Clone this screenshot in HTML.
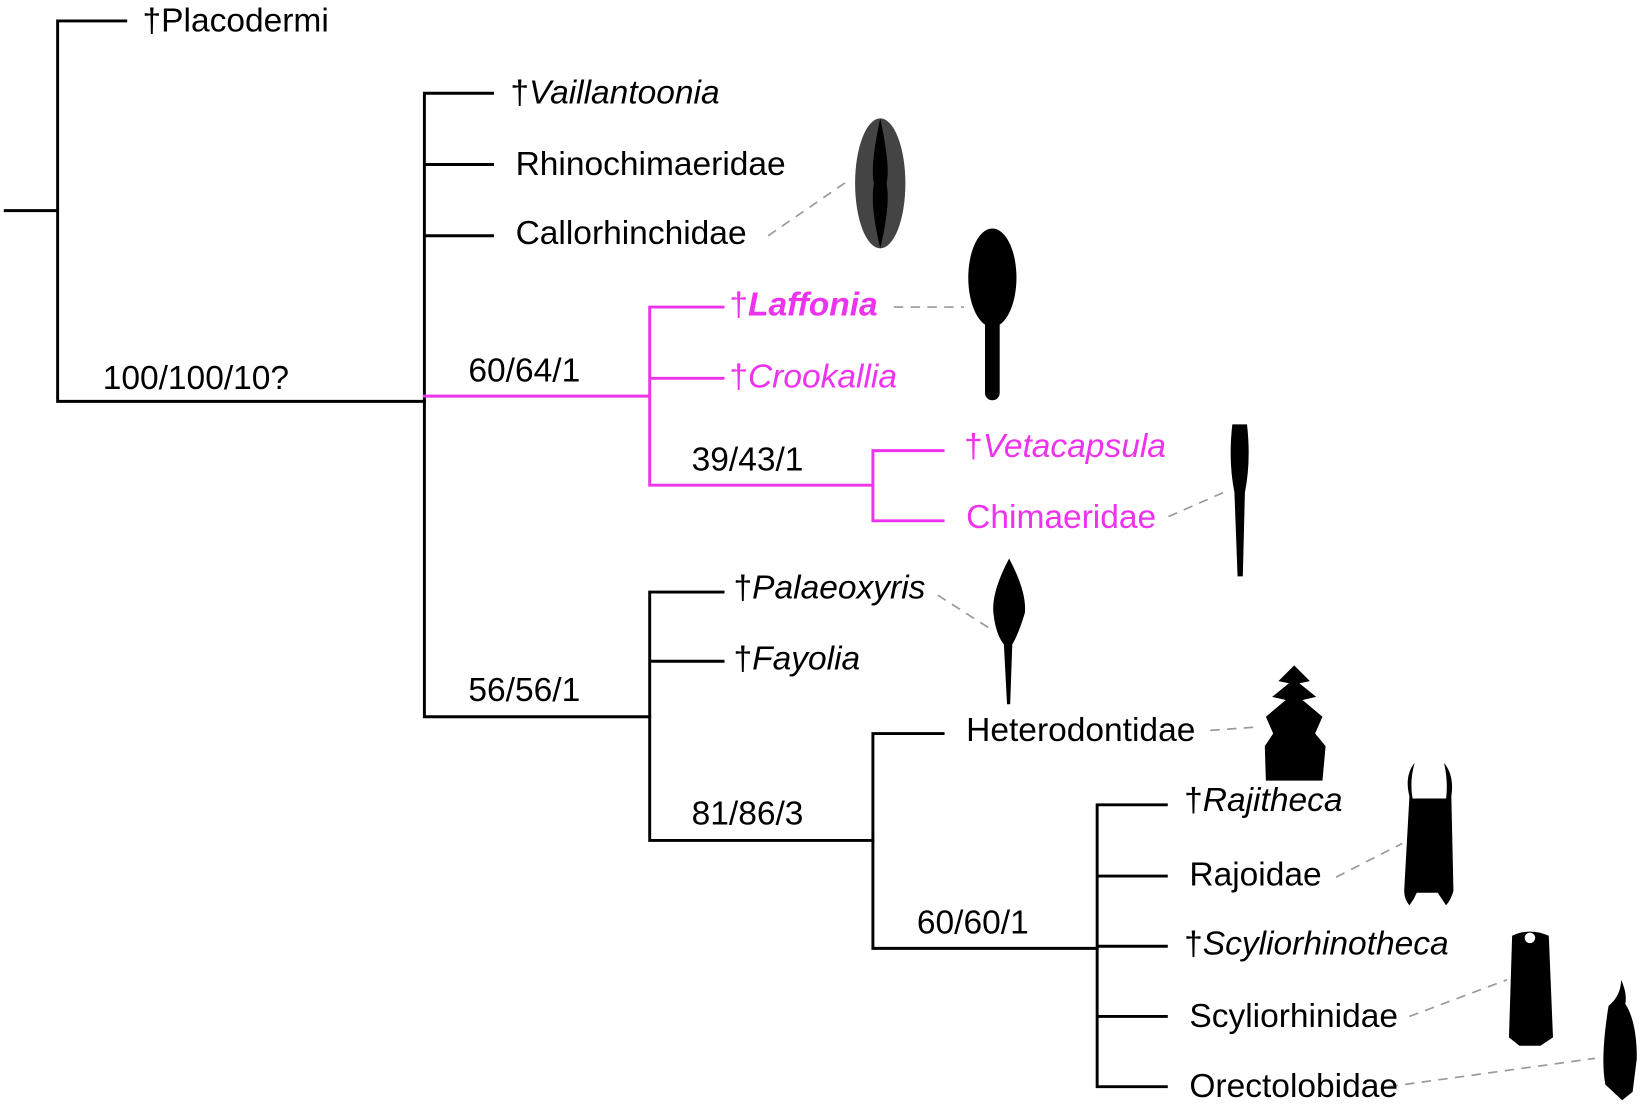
<!DOCTYPE html>
<html><head><meta charset="utf-8"><style>
html,body{margin:0;padding:0;background:#fff;}
svg{display:block;}
text{font-family:"Liberation Sans",Arial,sans-serif;font-size:32px;}
</style></head><body>
<svg width="1642" height="1112" viewBox="0 0 1642 1112" xmlns="http://www.w3.org/2000/svg">
<g transform="scale(1.0479)">
<g stroke="#000" stroke-width="2.8" fill="none" stroke-linecap="square">
<path d="M5 201H55M55 20V383M55 20H120M55 383H405"/>
<path d="M405 89V684M405 89H470M405 157H470M405 225H470M405 684H620"/>
<path d="M620 565V802M620 565H690M620 631H690M620 802H833"/>
<path d="M833 700V905M833 700H900M833 905H1047"/>
<path d="M1047 768V1037M1047 768H1113M1047 836H1113M1047 903H1113M1047 970H1113M1047 1037H1113"/>
</g>
<g stroke="#ee33ee" stroke-width="2.8" fill="none" stroke-linecap="square">
<path d="M405 378H620M620 293V463M620 293H690M620 361H690M620 463H833M833 430V497M833 430H900M833 497H900"/>
</g>
<g stroke="#999" stroke-width="1.6" stroke-dasharray="9,7" fill="none">
<path d="M733 225L810 172M853 293H920M1115 493L1172 468M895 568L948 602M1155 697L1197 694M1275 837L1338 805M1345 970L1438 935M1325 1037L1522 1010"/>
</g>
<ellipse cx="840" cy="175" rx="24" ry="62" fill="#444"/>
<path d="M840 113 Q850 160 846 175 Q850 195 840 237 Q830 195 834 175 Q830 160 840 113Z" fill="#000"/>
<ellipse cx="947" cy="265" rx="23" ry="47" fill="#000"/>
<rect x="940" y="290" width="14" height="92" rx="7" fill="#000"/>
<path d="M1176 405H1190Q1194 440 1188 470L1186 550H1181L1178 470Q1172 440 1176 405Z" fill="#000"/>
<path d="M963 533Q980 565 978 585Q972 605 966 615L964 672H961L958 615Q950 605 948 585Q946 565 963 533Z" fill="#000"/>
<path d="M1235 635L1250 650L1240 652L1256 665L1243 668L1262 684L1255 700L1265 712L1262 745H1208L1207 712L1215 700L1208 684L1227 668L1214 665L1230 652L1220 650Z" fill="#000"/>
<path d="M1345 760Q1340 740 1350 728Q1345 745 1348 762L1380 762Q1382 745 1378 728Q1388 740 1385 760L1387 850Q1385 858 1380 864L1376 858L1372 852H1352L1349 858L1345 864Q1340 858 1340 850Z" fill="#000"/>
<path d="M1443 893Q1460 885 1478 893L1482 990L1470 998H1450L1440 990Z" fill="#000"/>
<circle cx="1460" cy="895" r="5" fill="#fff"/>
<path d="M1535 960Q1547 950 1547 935Q1553 948 1551 958Q1562 975 1562 1010L1558 1042L1548 1050L1532 1035Q1527 1010 1535 960Z" fill="#000"/>
<g fill="#000">
<text x="136" y="30">†Placodermi</text>
<text x="98" y="371">100/100/10?</text>
<text x="487" y="99">†<tspan font-style="italic">Vaillantoonia</tspan></text>
<text x="492" y="167">Rhinochimaeridae</text>
<text x="492" y="233">Callorhinchidae</text>
<text x="447" y="364">60/64/1</text>
<text x="660" y="449">39/43/1</text>
<text x="447" y="669">56/56/1</text>
<text x="700" y="571">†<tspan font-style="italic">Palaeoxyris</tspan></text>
<text x="700" y="639">†<tspan font-style="italic">Fayolia</tspan></text>
<text x="660" y="787">81/86/3</text>
<text x="922" y="707">Heterodontidae</text>
<text x="875" y="891">60/60/1</text>
<text x="1130" y="774">†<tspan font-style="italic">Rajitheca</tspan></text>
<text x="1135" y="845">Rajoidae</text>
<text x="1130" y="911">†<tspan font-style="italic">Scyliorhinotheca</tspan></text>
<text x="1135" y="980">Scyliorhinidae</text>
<text x="1135" y="1047">Orectolobidae</text>
</g>
<g fill="#ee33ee">
<text x="696" y="301">†<tspan font-style="italic" font-weight="bold">Laffonia</tspan></text>
<text x="696" y="370">†<tspan font-style="italic">Crookallia</tspan></text>
<text x="920" y="436">†<tspan font-style="italic">Vetacapsula</tspan></text>
<text x="922" y="504">Chimaeridae</text>
</g>
</g>
</svg>
</body></html>
